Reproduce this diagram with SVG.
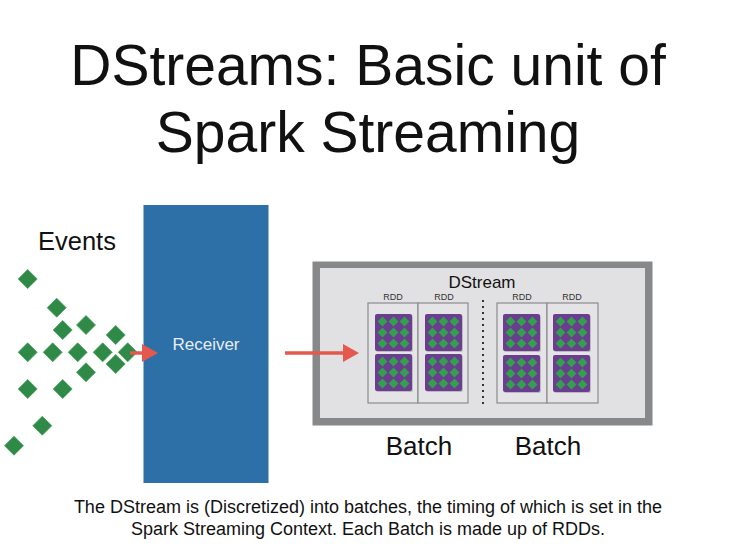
<svg xmlns="http://www.w3.org/2000/svg" xmlns:xlink="http://www.w3.org/1999/xlink" width="736" height="552" viewBox="0 0 736 552">
<style>
text{font-family:"Liberation Sans",Arial,sans-serif;fill:#111}
.title{font-size:57px;text-anchor:middle}
.cap{font-size:18px;text-anchor:middle}
.batch{font-size:26px;text-anchor:middle}
.rdd{font-size:9px;text-anchor:middle;fill:#333}
.ev{fill:#2e8a46;stroke:#4a9f5e;stroke-width:0.8}
.sd{fill:#33a04d}
.blk{fill:#6a3d8e}
.rddbox{fill:#e4e4e6;stroke:#8c8c8e;stroke-width:1.2}
.arr{stroke:#e4584d;stroke-width:3.5;fill:none}
</style>
<defs>
<path id="d" d="M0,-9.5 L9.5,0 L0,9.5 L-9.5,0Z"/>
<path id="sdia" d="M0,-4.9 L4.9,0 L0,4.9 L-4.9,0Z"/>
<g id="block">
<rect x="1" y="1" width="37" height="37" rx="2" fill="#000" opacity="0.18"/>
<rect class="blk" x="0" y="0" width="37" height="37" rx="2"/>
<g class="sd">
<use xlink:href="#sdia" x="7.5" y="7.5"/><use xlink:href="#sdia" x="18.5" y="7.5"/><use xlink:href="#sdia" x="29.5" y="7.5"/>
<use xlink:href="#sdia" x="7.5" y="18.5"/><use xlink:href="#sdia" x="18.5" y="18.5"/><use xlink:href="#sdia" x="29.5" y="18.5"/>
<use xlink:href="#sdia" x="7.5" y="29.5"/><use xlink:href="#sdia" x="18.5" y="29.5"/><use xlink:href="#sdia" x="29.5" y="29.5"/>
</g>
</g>
<marker id="ah" markerUnits="userSpaceOnUse" markerWidth="16" markerHeight="18" refX="0" refY="9" orient="auto">
<path d="M0,0 L16,9 L0,18 Z" fill="#e4584d"/>
</marker>
</defs>
<rect width="736" height="552" fill="#fff"/>
<g id="title">
<text class="title" x="368" y="85">DStreams: Basic unit of</text>
<text class="title" x="368" y="152">Spark Streaming</text>
</g>
<g id="events">
<text x="38" y="250" style="font-size:25.5px">Events</text>
<g class="ev">
<use xlink:href="#d" x="27.7" y="279"/>
<use xlink:href="#d" x="56.7" y="307.7"/>
<use xlink:href="#d" x="62.7" y="330"/>
<use xlink:href="#d" x="86" y="325"/>
<use xlink:href="#d" x="115.7" y="335"/>
<use xlink:href="#d" x="27.7" y="352.3"/>
<use xlink:href="#d" x="52.7" y="352.3"/>
<use xlink:href="#d" x="77.7" y="352.3"/>
<use xlink:href="#d" x="102.7" y="352.3"/>
<use xlink:href="#d" x="115.7" y="364"/>
<use xlink:href="#d" x="127.7" y="352.3"/>
<use xlink:href="#d" x="86" y="372.3"/>
<use xlink:href="#d" x="27.7" y="389"/>
<use xlink:href="#d" x="62.7" y="389"/>
<use xlink:href="#d" x="42.3" y="425.7"/>
<use xlink:href="#d" x="14" y="445.7"/>
</g>
</g>
<g id="receiver">
<rect x="143.5" y="205" width="125" height="278" fill="#2d6fa7"/>
<text x="206" y="350" style="font-size:17px;text-anchor:middle;fill:#e6eef5">Receiver</text>
</g>
<g id="dstream">
<rect x="312.5" y="261.5" width="340" height="164" fill="#87888a"/>
<rect x="320" y="268" width="325" height="150" fill="#e1e1e3"/>
<text x="482" y="288" style="font-size:17px;text-anchor:middle">DStream</text>
<text class="rdd" x="393" y="299.5">RDD</text>
<text class="rdd" x="444" y="299.5">RDD</text>
<text class="rdd" x="522" y="299.5">RDD</text>
<text class="rdd" x="572" y="299.5">RDD</text>
<rect class="rddbox" x="368" y="303" width="50" height="100"/>
<rect class="rddbox" x="418" y="303" width="50" height="100"/>
<rect class="rddbox" x="497" y="303" width="50" height="100"/>
<rect class="rddbox" x="547" y="303" width="51" height="100"/>
<line x1="483" y1="300" x2="483" y2="404" stroke="#333" stroke-width="2" stroke-dasharray="2 4"/>
<use xlink:href="#block" x="375" y="314"/>
<use xlink:href="#block" x="375" y="354"/>
<use xlink:href="#block" x="425" y="314"/>
<use xlink:href="#block" x="425" y="354"/>
<use xlink:href="#block" x="503" y="314"/>
<use xlink:href="#block" x="503" y="355"/>
<use xlink:href="#block" x="553" y="314"/>
<use xlink:href="#block" x="553" y="355"/>
</g>
<g id="batches">
<text class="batch" x="419" y="455">Batch</text>
<text class="batch" x="548" y="455">Batch</text>
</g>
<g id="connectors">
<line class="arr" x1="130" y1="353" x2="142" y2="353" marker-end="url(#ah)"/>
<line class="arr" x1="285" y1="353" x2="343" y2="353" marker-end="url(#ah)"/>
</g>
<g id="caption">
<text class="cap" x="368" y="513">The DStream is (Discretized) into batches, the timing of which is set in the</text>
<text class="cap" x="368" y="535">Spark Streaming Context. Each Batch is made up of RDDs.</text>
</g>
</svg>
